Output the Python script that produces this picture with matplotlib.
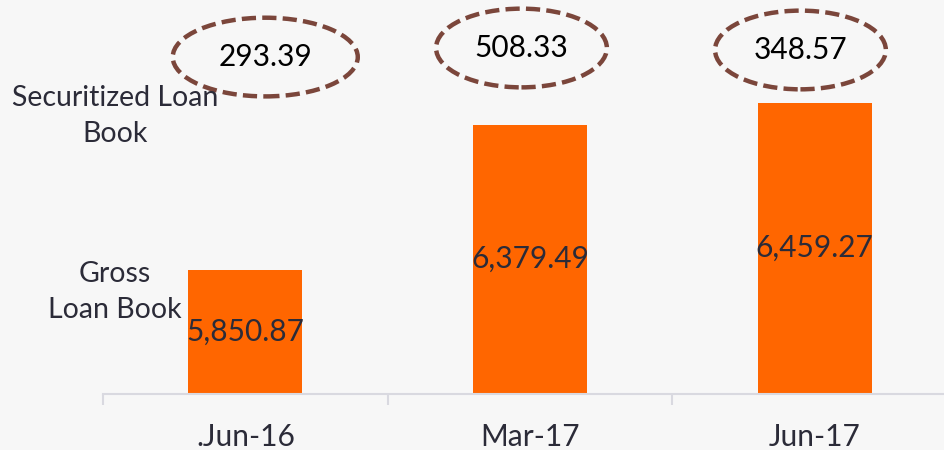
import matplotlib
matplotlib.use('Agg')
import matplotlib.pyplot as plt
from matplotlib.patches import Ellipse
from matplotlib.transforms import blended_transform_factory

plt.rcParams['font.family'] = ['Lato', 'DejaVu Sans']

periods = ['.Jun-16', 'Mar-17', 'Jun-17']
gross_loan_book = [5850.87, 6379.49, 6459.27]
securitized_loan_book = [293.39, 508.33, 348.57]

# layout of the dashed call-outs (offset from bar centre, width in categories, y in axes fraction)
ell_dx = [0.07, -0.03, -0.05]
ell_w = [0.65, 0.60, 0.60]
ell_y = [0.855, 0.878, 0.873]

bar_color = '#FF6600'
text_color = '#2b2b38'
ell_color = '#7b463b'
bg = '#f7f7f7'

fig = plt.figure(figsize=(9.45, 4.5), dpi=100, facecolor=bg)
ax = fig.add_axes([103 / 945, 56.5 / 450, 854 / 945, 393.5 / 450])
ax.set_facecolor(bg)

ymin, ymax = 5400, 6835
x = list(range(len(periods)))
ax.bar(x, [v - ymin for v in gross_loan_book], bottom=ymin, width=0.4, color=bar_color)
ax.set_xlim(-0.5, len(periods) - 0.5)
ax.set_ylim(ymin, ymax)

for i, v in enumerate(gross_loan_book):
    ax.text(i, (ymin + v) / 2, f'{v:,.2f}', ha='center', va='center',
            fontsize=21.5, color=text_color)

trans = blended_transform_factory(ax.transData, ax.transAxes)
for i, v in enumerate(securitized_loan_book):
    cx = i + ell_dx[i]
    ax.add_patch(Ellipse((cx, ell_y[i]), ell_w[i], 0.2, transform=trans,
                         fill=False, edgecolor=ell_color, lw=3.2,
                         linestyle=(0, (3.2, 1.4)), clip_on=False))
    ax.text(cx, ell_y[i], f'{v:.2f}', transform=trans, ha='center', va='center',
            fontsize=21.5, color='black')

for s in ['top', 'right', 'left']:
    ax.spines[s].set_visible(False)
ax.spines['bottom'].set_color('#d9d9e0')
ax.spines['bottom'].set_linewidth(1.5)
ax.set_yticks([])
ax.set_xticks(x)
ax.set_xticklabels(periods, fontsize=21.5, color=text_color)
ax.tick_params(axis='x', which='major', length=0, pad=21)
ax.set_xticks([i - 0.5 for i in range(len(periods) + 1)], minor=True)
ax.tick_params(axis='x', which='minor', length=8, width=1.5, color='#d9d9e0')

fig.text(115 / 945, 1 - 116 / 450, 'Securitized Loan\nBook', ha='center', va='center',
         fontsize=20.5, color=text_color, linespacing=1.45)
fig.text(115 / 945, 1 - 292 / 450, 'Gross\nLoan Book', ha='center', va='center',
         fontsize=20.5, color=text_color, linespacing=1.45)

fig.savefig('out.png', dpi=100, facecolor=bg)
